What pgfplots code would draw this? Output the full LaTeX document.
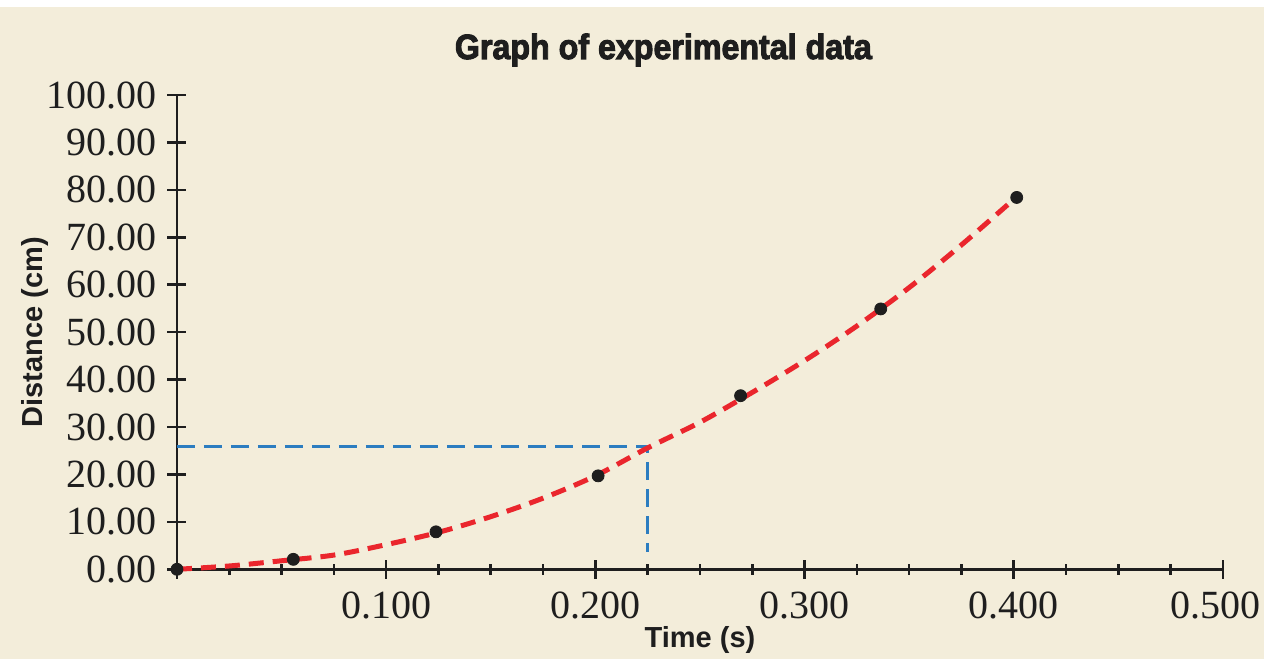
\documentclass[border=0pt]{standalone}
\usepackage{fontspec}
\setmainfont{Liberation Serif}
\setsansfont{Liberation Sans}
\newfontfamily\titlefont{Liberation Sans Bold}[FakeBold=3]
\usepackage{pgfplots}
\pgfplotsset{compat=1.18}
\definecolor{paper}{RGB}{243,237,218}
\definecolor{fitred}{RGB}{234,38,45}
\definecolor{guideblue}{RGB}{44,125,192}
\definecolor{ink}{RGB}{30,30,30}

% measured data: time (s), distance (cm)
\pgfplotstableread{
t      d
0.000  0.0
0.0556 2.1
0.1238 7.9
0.2013 19.7
0.2694 36.6
0.3364 54.9
0.4014 78.4
}\measured

\begin{document}
\begin{tikzpicture}
% 1 px of the reference = 0.5pt, axis origin at px (177,569.3)
\path[use as bounding box] (-88.5pt,-44.85pt) rectangle (543.5pt,284.65pt);
\fill[white] (-88.5pt,281pt) rectangle (543.5pt,284.65pt);
\fill[paper] (-88.5pt,-44.85pt) rectangle (543.5pt,281pt);
\begin{axis}[
    at={(0,0)}, anchor=south west,
    scale only axis,
    width=523pt, height=237.15pt,
    xmin=0, xmax=0.5, ymin=0, ymax=100,
    axis lines=left,
    axis line style={-, ink, line width=1.3pt},
    clip=false,
    xtick={0,0.1,0.2,0.3,0.4,0.5},
    xticklabels={,0.100,0.200,0.300,0.400,\hspace*{-7pt}0.500},
    minor x tick num=3,
    ytick={0,10,...,100},
    yticklabel={\pgfmathprintnumber[fixed,fixed zerofill,precision=2]{\tick}},
    tick align=center,
    major tick length=9.5pt,
    minor tick length=5.5pt,
    every tick/.style={ink, line width=1.3pt},
    /pgf/number format/assume math mode=true,
    tick label style={font=\fontsize{20}{24}\selectfont, text=ink},
    xticklabel style={anchor=center, inner sep=0pt, yshift=-13.5pt},
    yticklabel style={anchor=east, inner sep=0pt, xshift=-5.5pt},
    every axis title shift=0pt,
    title={\scalebox{0.92}[1]{\titlefont Graph of experimental data}},
    title style={at={(axis description cs:0.465,1.095)}, anchor=center,
        font=\fontsize{17.5}{20}\selectfont, text=ink, inner sep=0pt},
    xlabel={\sffamily\bfseries Time (s)},
    xlabel style={at={(axis description cs:0.5,0)}, anchor=center, yshift=-35.4pt,
        font=\fontsize{14.5}{17}\selectfont, text=ink, inner sep=0pt},
    ylabel={\sffamily\bfseries Distance (cm)},
    ylabel style={at={(axis description cs:-0.1358,0.5)}, anchor=center, rotate=0,
        font=\fontsize{14.5}{17}\selectfont, text=ink, inner sep=0pt},
  ]
  % guide lines read off the fit
  \addplot[guideblue, line width=1.5pt, dash pattern=on 9pt off 4.5pt]
    coordinates {(0,25.8) (0.225,25.8) (0.225,3.7)};
  % fitted curve
  \addplot[fitred, line width=2.5pt, dash pattern=on 7.5pt off 4.5pt, smooth] coordinates {
    (0,0) (0.025,0.7) (0.05,1.8) (0.075,3.0) (0.1,5.2) (0.125,7.8)
    (0.15,11.1) (0.175,15.0) (0.2,19.7) (0.225,25.6) (0.25,31.0)
    (0.275,37.3) (0.3,44.0) (0.325,51.3) (0.35,59.4) (0.375,68.4) (0.4,78.0)
  };
  % measured points
  \addplot[only marks, mark=*, mark size=3pt, ink] table[x=t, y=d] {\measured};
\end{axis}
\end{tikzpicture}
\end{document}
